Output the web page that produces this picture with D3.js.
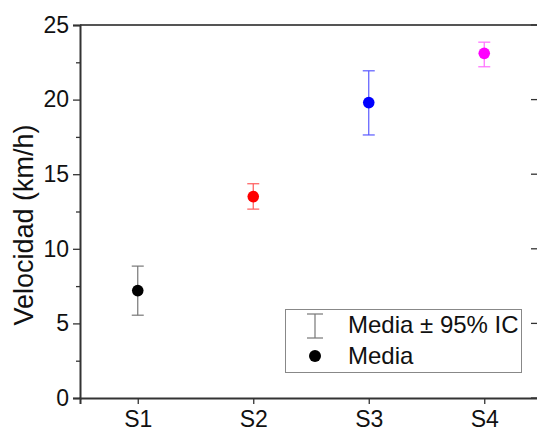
<!DOCTYPE html>
<html>
<head>
<meta charset="utf-8">
<script src="https://cdn.jsdelivr.net/npm/d3@7"></script>
<style>
  html, body { margin: 0; padding: 0; background: #fff; }
  svg { display: block; font-family: "Liberation Sans", Arial, sans-serif; }
</style>
</head>
<body>
<svg id="chart" width="537" height="429"></svg>
<script>
// ---- data ----
const categories = ["S1", "S2", "S3", "S4"];
const means  = [7.2, 13.5, 19.8, 23.1];
const lower  = [5.55, 12.66, 17.63, 22.2];
const upper  = [8.84, 14.36, 21.93, 23.85];
const markerColors = ["#000000", "#ff0000", "#0000ff", "#ff00ff"];
const barColors    = ["#777777", "#ff5a5a", "#5a5aff", "#ff6bff"];
const yTicks = [0, 5, 10, 15, 20, 25];
const yMinorTicks = [2.5, 7.5, 12.5, 17.5, 22.5];
const yLabel = "Velocidad (km/h)";
const legendLabels = ["Media \u00b1 95% IC", "Media"];

// ---- layout ----
const mLeft = 80, mRight = 542, mTop = 25, mBottom = 398;
const svg = d3.select("#chart");
const FONT = "'Liberation Sans', Arial, sans-serif";

const x = d3.scaleLinear().domain([0.5, categories.length + 0.5]).range([mLeft, mRight]);
const y = d3.scaleLinear().domain([0, 25]).range([mBottom, mTop]);

const axisColor = "#333";

// top frame line and right axis
svg.append("line").attr("x1", mLeft).attr("x2", mRight).attr("y1", mTop).attr("y2", mTop)
  .attr("stroke", "#555").attr("stroke-width", 2);
svg.append("line").attr("x1", mRight).attr("x2", mRight).attr("y1", mTop).attr("y2", mBottom)
  .attr("stroke", axisColor).attr("stroke-width", 2);
svg.selectAll(".rtick").data(yTicks).enter().append("line")
  .attr("x1", mRight - 11).attr("x2", mRight)
  .attr("y1", d => y(d)).attr("y2", d => y(d))
  .attr("stroke", axisColor).attr("stroke-width", 1.3);

// left axis
const yAxis = d3.axisLeft(y).tickValues(yTicks).tickSize(7).tickPadding(4).tickFormat(d3.format("d"));
const gy = svg.append("g").attr("transform", `translate(${mLeft},0)`).call(yAxis);
gy.select(".domain").attr("stroke", axisColor).attr("stroke-width", 2);
gy.selectAll(".tick line").attr("stroke", axisColor).attr("stroke-width", 1.3);
gy.selectAll(".tick text").attr("font-size", 23).attr("fill", "#111").attr("font-family", FONT);
const yMinor = d3.axisLeft(y).tickValues(yMinorTicks).tickSize(4).tickFormat("");
const gym = svg.append("g").attr("transform", `translate(${mLeft},0)`).call(yMinor);
gym.select(".domain").remove();
gym.selectAll(".tick line").attr("stroke", axisColor).attr("stroke-width", 1.3);

// bottom axis
const xAxis = d3.axisBottom(x).tickValues(categories.map((c, i) => i + 1))
  .tickFormat((d) => categories[d - 1]).tickSize(6).tickPadding(7);
const gx = svg.append("g").attr("transform", `translate(0,${mBottom})`).call(xAxis);
gx.select(".domain").attr("stroke", axisColor).attr("stroke-width", 2);
gx.selectAll(".tick line").attr("stroke", axisColor).attr("stroke-width", 1.3);
gx.selectAll(".tick text").attr("font-size", 23).attr("fill", "#111").attr("font-family", FONT);

// y label
svg.append("text")
  .attr("transform", `translate(33,225) rotate(-90)`)
  .attr("text-anchor", "middle")
  .attr("font-size", 27).attr("fill", "#111").attr("font-family", FONT)
  .text(yLabel);

// error bars
const capW = 6;
const g = svg.append("g");
categories.forEach((c, i) => {
  const cx = x(i + 1);
  const col = barColors[i];
  g.append("line").attr("x1", cx).attr("x2", cx).attr("y1", y(lower[i])).attr("y2", y(upper[i]))
    .attr("stroke", col).attr("stroke-width", 1.2);
  [lower[i], upper[i]].forEach(v => {
    g.append("line").attr("x1", cx - capW).attr("x2", cx + capW).attr("y1", y(v)).attr("y2", y(v))
      .attr("stroke", col).attr("stroke-width", 1.2);
  });
});
// points
g.selectAll("circle").data(means).enter().append("circle")
  .attr("cx", (d, i) => x(i + 1)).attr("cy", d => y(d)).attr("r", 5.8)
  .attr("fill", (d, i) => markerColors[i]);

// legend
const lg = svg.append("g");
lg.append("rect").attr("x", 285.5).attr("y", 309.5).attr("width", 236).attr("height", 63)
  .attr("fill", "#fff").attr("stroke", "#888").attr("stroke-width", 1);
const ix = 315;
lg.append("line").attr("x1", ix).attr("x2", ix).attr("y1", 314).attr("y2", 338)
  .attr("stroke", "#777").attr("stroke-width", 1.2);
[314, 338].forEach(yy => lg.append("line").attr("x1", ix - 8).attr("x2", ix + 8)
  .attr("y1", yy).attr("y2", yy).attr("stroke", "#777").attr("stroke-width", 1.2));
lg.append("circle").attr("cx", ix).attr("cy", 356).attr("r", 6).attr("fill", "#000");
lg.append("text").attr("x", 348).attr("y", 333).attr("font-size", 24).attr("fill", "#111")
  .attr("font-family", FONT).text(legendLabels[0]);
lg.append("text").attr("x", 348).attr("y", 364).attr("font-size", 24).attr("fill", "#111")
  .attr("font-family", FONT).text(legendLabels[1]);
</script>
</body>
</html>
